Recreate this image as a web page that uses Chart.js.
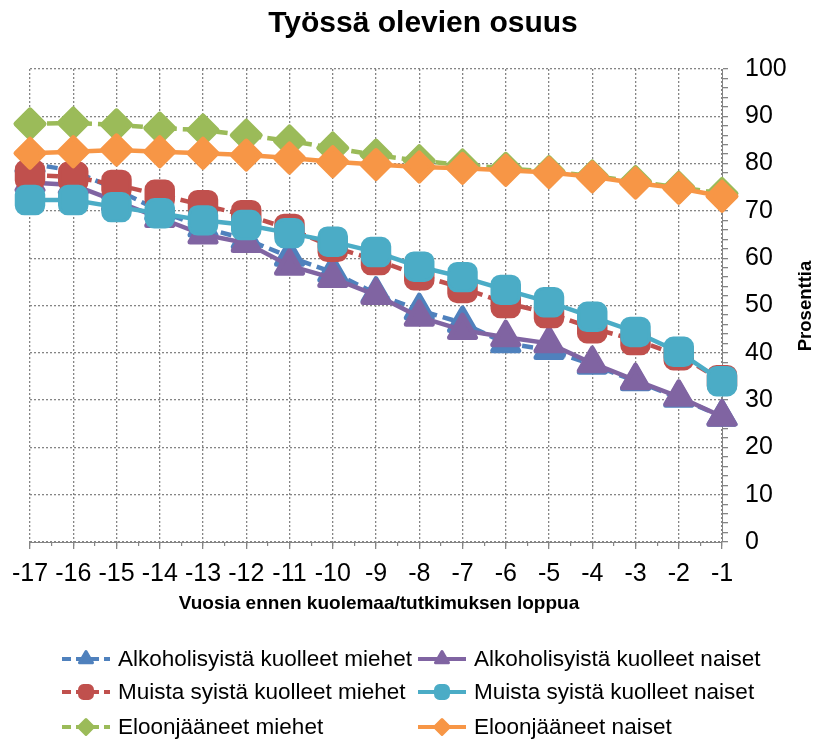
<!DOCTYPE html>
<html>
<head>
<meta charset="utf-8">
<script src="https://cdn.jsdelivr.net/npm/chart.js@4/dist/chart.umd.min.js"></script>
<style>
  html, body { margin: 0; padding: 0; background: #fff; }
  #wrap { width: 816px; height: 742px; }
</style>
</head>
<body>
<div id="wrap"><canvas id="myChart" width="816" height="742"></canvas></div>
<script>
const labels = ['-17', '-16', '-15', '-14', '-13', '-12', '-11', '-10', '-9', '-8', '-7', '-6', '-5', '-4', '-3', '-2', '-1'];

const alkoMiehet = [80, 78.5, 74.5, 70, 66.5, 64, 60.3, 57, 52.5, 49, 46.3, 42, 40.6, 37.5, 34, 30.5, 26.5];
const alkoNaiset = [76, 75.5, 72, 68.5, 65, 63.2, 58.4, 55.8, 52.2, 47.6, 44.8, 43.3, 42, 37.8, 34.2, 30.7, 26.5];
const muistaMiehet = [77.6, 77.2, 75.5, 73.4, 71.2, 69.1, 66.2, 62.4, 59.6, 56.4, 53.7, 50.5, 48.4, 45.2, 42.7, 39.5, 34.2];
const muistaNaiset = [72.3, 72.3, 70.8, 69.5, 68, 67, 65.3, 63.5, 61.3, 58.2, 56, 53.3, 50.7, 47.6, 44.4, 40.2, 34];
const eloonMiehet = [88.4, 88.6, 88.2, 87.5, 87.1, 86, 84.8, 83.3, 81.8, 80.6, 79.7, 79, 78.3, 77.4, 76.2, 75, 73.7];
const eloonNaiset = [82.2, 82.5, 82.9, 82.5, 82.2, 81.8, 81.2, 80.4, 79.8, 79.3, 79, 78.6, 78.1, 77.2, 75.9, 74.8, 73.1];

const seriesNames = [
    'Alkoholisyistä kuolleet miehet',
    'Alkoholisyistä kuolleet naiset',
    'Muista syistä kuolleet miehet',
    'Muista syistä kuolleet naiset',
    'Eloonjääneet miehet',
    'Eloonjääneet naiset'
];

const FONT = '"Liberation Sans", Arial, sans-serif';
const GRID = '#858585';

function makeSet(i, data, color, style, radius, border, dashed) {
    return {
        label: seriesNames[i],
        data: data,
        borderColor: color,
        backgroundColor: color,
        borderWidth: 4.5,
        borderDash: dashed ? [11, 6] : [],
        pointStyle: style,
        pointRadius: radius,
        pointHoverRadius: radius,
        pointBorderWidth: border,
        pointBorderColor: color,
        pointBackgroundColor: color,
        fill: false,
        tension: 0,
        order: 10 - i,   // later series drawn on top, like the original
        _dashed: dashed
    };
}

const datasets = [
    makeSet(0, alkoMiehet, '#4F81BD', 'triangle', 15, 5, true),
    makeSet(1, alkoNaiset, '#8064A2', 'triangle', 15, 5, false),
    makeSet(2, muistaMiehet, '#C0504D', 'rectRounded', 16, 3, true),
    makeSet(3, muistaNaiset, '#4BACC6', 'rectRounded', 16, 3, false),
    makeSet(4, eloonMiehet, '#9BBB59', 'rectRot', 14, 5, true),
    makeSet(5, eloonNaiset, '#F79646', 'rectRot', 14, 5, false)
];

// round joins so the markers look soft like in the original
const softMarkers = {
    id: 'softMarkers',
    beforeDatasetsDraw(chart) { chart.ctx.lineJoin = 'round'; },
    afterDatasetsDraw(chart) { chart.ctx.lineJoin = 'miter'; }
};

// legend in two columns + axis titles drawn by hand
const extras = {
    id: 'extras',
    afterDraw(chart) {
        const c = chart.ctx;
        const area = chart.chartArea;
        c.save();
        c.fillStyle = '#000';
        c.font = 'bold 19px ' + FONT;
        c.textAlign = 'center';
        c.textBaseline = 'middle';
        c.fillText('Vuosia ennen kuolemaa/tutkimuksen loppua', (area.left + area.right) / 2 + 3, 604);

        c.save();
        c.translate(806, 306);
        c.rotate(-Math.PI / 2);
        c.font = 'bold 18.5px ' + FONT;
        c.fillText('Prosenttia', 0, 0);
        c.restore();

        const cols = [62, 418];
        const rows = [659, 692, 727];
        chart.data.datasets.forEach((ds, i) => {
            const x = cols[i % 2];
            const y = rows[Math.floor(i / 2)];
            c.strokeStyle = ds.borderColor;
            c.fillStyle = ds.borderColor;
            c.lineWidth = 4;
            c.setLineDash(ds._dashed ? [9, 5] : []);
            c.beginPath();
            c.moveTo(x, y);
            c.lineTo(x + 48, y);
            c.stroke();
            c.setLineDash([]);
            c.lineWidth = 3;
            c.lineJoin = 'round';
            Chart.helpers.drawPoint(c, { pointStyle: ds.pointStyle, radius: 7.5, rotation: 0, borderWidth: 3 }, x + 24, y);
            c.fillStyle = '#000';
            c.font = '22.5px ' + FONT;
            c.textAlign = 'left';
            c.fillText(ds.label, x + 56, y + 1);
        });
        c.restore();
    }
};

const ctx = document.getElementById('myChart').getContext('2d');
const myChart = new Chart(ctx, {
    type: 'line',
    data: { labels: labels, datasets: datasets },
    plugins: [softMarkers, extras],
    options: {
        responsive: false,
        animation: false,
        layout: { padding: { left: 30, right: 0, top: 0, bottom: 127 } },
        plugins: {
            legend: { display: false },
            tooltip: { enabled: false },
            title: {
                display: true,
                text: 'Työssä olevien osuus',
                color: '#000',
                font: { family: FONT, size: 30, weight: 'bold' },
                padding: { top: 6, bottom: 27 }
            }
        },
        scales: {
            x: {
                offset: false,
                weight: 1,
                grid: { color: GRID, lineWidth: 1.3, tickLength: 7, tickColor: GRID },
                border: { display: true, color: GRID, dash: [2, 2] },
                ticks: {
                    color: '#000',
                    font: { family: FONT, size: 25 },
                    padding: 10,
                    maxRotation: 0,
                    autoSkip: false
                },
                afterFit(scale) { scale.height = 73; }
            },
            // only gives the small tick marks between the categories
            xMinor: {
                type: 'linear',
                position: 'bottom',
                weight: 0,
                min: -17,
                max: -1,
                grid: { drawOnChartArea: false, tickLength: 4, color: GRID, lineWidth: 1.2 },
                border: { display: false },
                ticks: { display: false, stepSize: 0.5, autoSkip: false },
                afterFit(scale) { scale.height = 0; }
            },
            y: {
                position: 'right',
                min: 0,
                max: 100,
                grid: {
                    color: (c) => (c.tick && c.tick.value % 10 === 0) ? GRID : 'rgba(0,0,0,0)',
                    lineWidth: 1.3,
                    tickLength: 6,
                    tickColor: GRID
                },
                border: { display: true, color: GRID, dash: [2, 2] },
                ticks: {
                    stepSize: 2,
                    autoSkip: false,
                    color: '#000',
                    font: { family: FONT, size: 25 },
                    padding: 17,
                    callback: function (value) {
                        return value % 10 === 0 ? String(value) : '';
                    }
                },
                afterFit(scale) { scale.width = 94; }
            }
        }
    }
});
</script>
</body>
</html>
